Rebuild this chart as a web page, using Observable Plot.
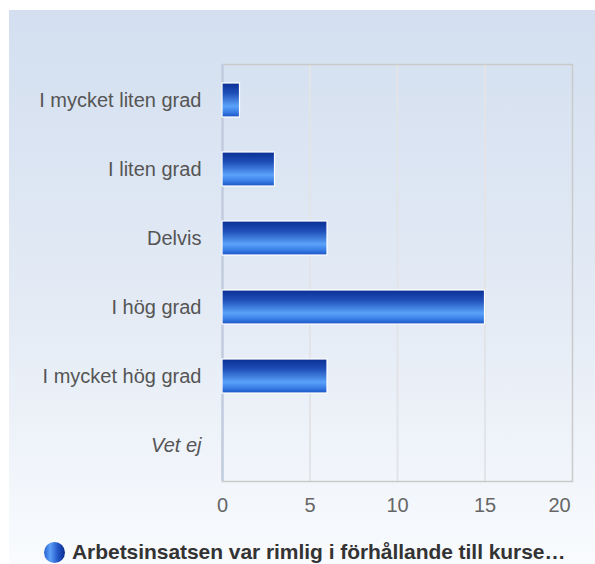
<!DOCTYPE html>
<html>
<head>
<meta charset="utf-8">
<script src="https://cdn.jsdelivr.net/npm/d3@7"></script>
<script src="https://cdn.jsdelivr.net/npm/@observablehq/plot@0.6"></script>
<style>
  html, body { margin: 0; padding: 0; background: #fff; }
  body { width: 595px; height: 564px; overflow: hidden; position: relative; font-family: "Liberation Sans", Arial, Helvetica, sans-serif; }
  #panel { position: absolute; left: 9px; top: 10px; width: 586px; height: 554px;
    background: linear-gradient(to bottom, #d3dff0 0%, #e4ebf5 55%, #f9fbfe 100%); overflow: hidden; }
  #legend { position: absolute; left: 35px; top: 530px; height: 24px; display: flex; align-items: center; white-space: nowrap; }
  #legend .dot { width: 21px; height: 21px; border-radius: 50%; margin-right: 7px; flex: none;
    background: linear-gradient(to right, #2a62d0 0%, #5c9ff7 30%, #2458c8 65%, #0b2c8c 100%); }
  #legend .txt { font-weight: bold; font-size: 21px; line-height: 24px; color: #333; letter-spacing: -0.05px; }
</style>
</head>
<body>
<div id="panel">
  <div id="chart"></div>
  <div id="legend"><div class="dot"></div><div class="txt">Arbetsinsatsen var rimlig i förhållande till kurse…</div></div>
</div>
<script>
const categories = ["I mycket liten grad", "I liten grad", "Delvis", "I hög grad", "I mycket hög grad", "Vet ej"];
const values = [1, 3, 6, 15, 6, 0];
const xTicks = [0, 5, 10, 15, 20];
const seriesName = "Arbetsinsatsen var rimlig i förhållande till kurse…";

const data = categories.map((c, i) => ({category: c, value: values[i]}));

const chart = Plot.plot({
  width: 586,
  height: 515,
  marginLeft: 213,
  marginRight: 23,
  marginTop: 54,
  marginBottom: 44,
  style: {background: "transparent", fontFamily: "'Liberation Sans', Arial, Helvetica, sans-serif", overflow: "visible"},
  x: {domain: [0, 20]},
  y: {domain: categories, paddingInner: 0.51, paddingOuter: 0.25},
  marks: [
    Plot.gridX([5, 10, 15], {stroke: "#e2e4e8", strokeOpacity: 1, strokeWidth: 2}),
    Plot.frame({stroke: "#cacaca", strokeWidth: 1.5}),
    Plot.ruleX([0], {stroke: "#c3cde0", strokeWidth: 2.5}),
    Plot.barX(data, {x: "value", y: "category", fill: "url(#barGrad)", stroke: "#ffffff", strokeWidth: 1.2}),
    Plot.axisY(categories.filter(c => c !== "Vet ej"), {tickSize: 0, tickPadding: 21, fontSize: 20, fill: "#555", label: null}),
    Plot.axisY(["Vet ej"], {tickSize: 0, tickPadding: 21, fontSize: 20, fill: "#555", fontStyle: "italic", label: null}),
    Plot.axisX(xTicks.slice(0, 4), {tickSize: 0, tickPadding: 16, fontSize: 20, fill: "#666", label: null}),
    Plot.axisX(xTicks.slice(4), {tickSize: 0, tickPadding: 16, fontSize: 20, fill: "#666", label: null, dx: -13})
  ]
});

const svg = d3.select(chart);
const defs = svg.insert("defs", ":first-child");
const g = defs.append("linearGradient").attr("id", "barGrad").attr("x1", 0).attr("y1", 0).attr("x2", 0).attr("y2", 1);
[["0%", "#0a2f94"], ["30%", "#1f4fb8"], ["68%", "#5aa2fa"], ["85%", "#3a7fe6"], ["100%", "#1a52c4"]].forEach(([o, c]) =>
  g.append("stop").attr("offset", o).attr("stop-color", c));

document.getElementById("chart").appendChild(chart);
</script>
</body>
</html>
